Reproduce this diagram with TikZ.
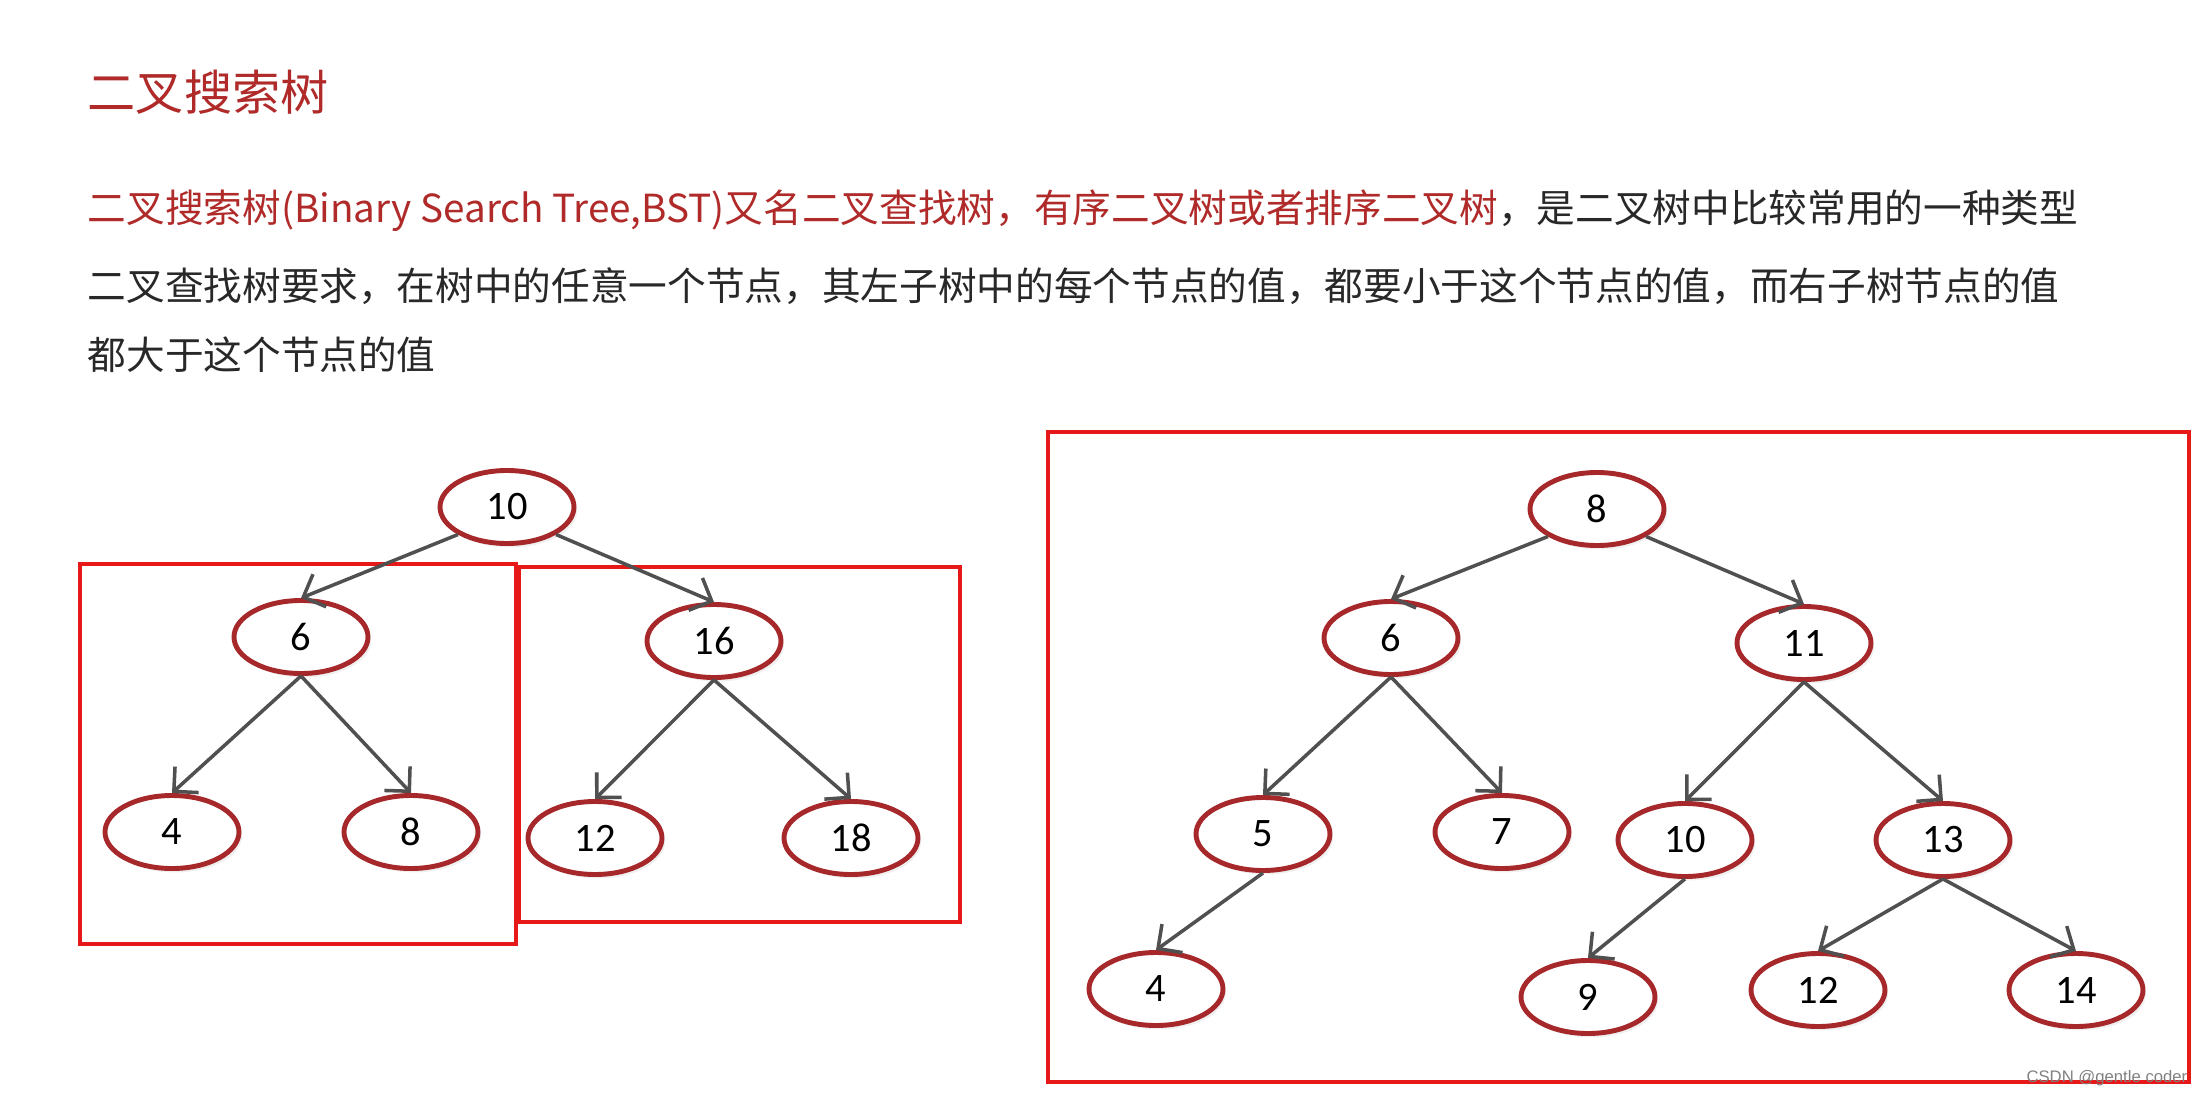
\documentclass[tikz,border=0pt]{standalone}
\usepackage{fontspec}
\setmainfont{Carlito}
\newfontfamily\cjk{Noto Sans CJK SC}
\newfontfamily\wmfont{Liberation Sans}
\usetikzlibrary{arrows.meta,shapes.geometric,shadows}

\definecolor{titelrood}{RGB}{176,42,42}
\definecolor{knooprood}{RGB}{166,40,42}
\definecolor{kaderrood}{RGB}{230,24,24}
\definecolor{pijlgrijs}{RGB}{80,80,80}
\definecolor{tekstgrijs}{RGB}{40,40,40}

\begin{document}
\begin{tikzpicture}[x=0.1mm, y=-0.1mm,
    knoop/.style={ellipse, draw=knooprood, line width=1.4pt, fill=white,
        minimum width=13.4mm, minimum height=7.3mm, inner sep=0pt,
        font=\fontsize{11.5}{11.5}\selectfont,
        drop shadow={opacity=0.12, shadow xshift=0.3mm, shadow yshift=-0.4mm}},
    pijl/.style={-{Straight Barb[length=5pt,width=10pt]}, pijlgrijs, line width=1pt},
    kader/.style={draw=kaderrood, line width=0.9pt},
    tekst/.style={anchor=base west, inner sep=0pt, text=tekstgrijs,
        font=\cjk\fontsize{11}{11}\selectfont}]
    \useasboundingbox (0,0) rectangle (2205,1093);

    % Tekst
    \node[tekst, text=titelrood, font=\cjk\fontsize{13.7}{13.7}\selectfont] (titel) at (87,111) {二叉搜索树};
    \node[tekst] (regel1) at (87,222) {\textcolor{titelrood}{二叉搜索树(Binary Search Tree,BST)又名二叉查找树，有序二叉树或者排序二叉树}，是二叉树中比较常用的一种类型};
    \node[tekst] (regel2) at (87,300) {二叉查找树要求，在树中的任意一个节点，其左子树中的每个节点的值，都要小于这个节点的值，而右子树节点的值};
    \node[tekst] (regel3) at (87,369) {都大于这个节点的值};

    % Boom 1
    \draw[kader] (80,564) rectangle (516,944);
    \draw[kader] (519,567) rectangle (960,922);

    \node[knoop] (a10) at (507,507) {10};
    \node[knoop] (a6) at (301,637) {6};
    \node[knoop] (a16) at (714,641) {16};
    \node[knoop] (a4) at (172,832) {4};
    \node[knoop] (a8) at (411,832) {8};
    \node[knoop] (a12) at (595,838) {12};
    \node[knoop] (a18) at (851,838) {18};

    \draw[pijl] (a10.south west) -- (a6.north);
    \draw[pijl] (a10.south east) -- (a16.north);
    \draw[pijl] (a6.south) -- (a4.north);
    \draw[pijl] (a6.south) -- (a8.north);
    \draw[pijl] (a16.south) -- (a12.north);
    \draw[pijl] (a16.south) -- (a18.north);

    % Boom 2
    \draw[kader] (1048,432) rectangle (2189,1082);

    \node[knoop] (b8) at (1597,509) {8};
    \node[knoop] (b6) at (1391,638) {6};
    \node[knoop] (b11) at (1804,643) {11};
    \node[knoop] (b5) at (1263,834) {5};
    \node[knoop] (b7) at (1502,832) {7};
    \node[knoop] (b10) at (1685,840) {10};
    \node[knoop] (b13) at (1943,840) {13};
    \node[knoop] (b4) at (1156,989) {4};
    \node[knoop] (b9) at (1588,997) {9};
    \node[knoop] (b12) at (1818,990) {12};
    \node[knoop] (b14) at (2076,990) {14};

    \draw[pijl] (b8.south west) -- (b6.north);
    \draw[pijl] (b8.south east) -- (b11.north);
    \draw[pijl] (b6.south) -- (b5.north);
    \draw[pijl] (b6.south) -- (b7.north);
    \draw[pijl] (b11.south) -- (b10.north);
    \draw[pijl] (b11.south) -- (b13.north);
    \draw[pijl] (b5.south) -- (b4.north);
    \draw[pijl] (b10.south) -- (b9.north);
    \draw[pijl] (b13.south) -- (b12.north);
    \draw[pijl] (b13.south) -- (b14.north);

    % Watermerk
    \node[anchor=base east, inner sep=0pt, text=gray, font=\wmfont\fontsize{4.75}{5}\selectfont] (watermerk) at (2188,1082) {CSDN @gentle coder};
\end{tikzpicture}
\end{document}
